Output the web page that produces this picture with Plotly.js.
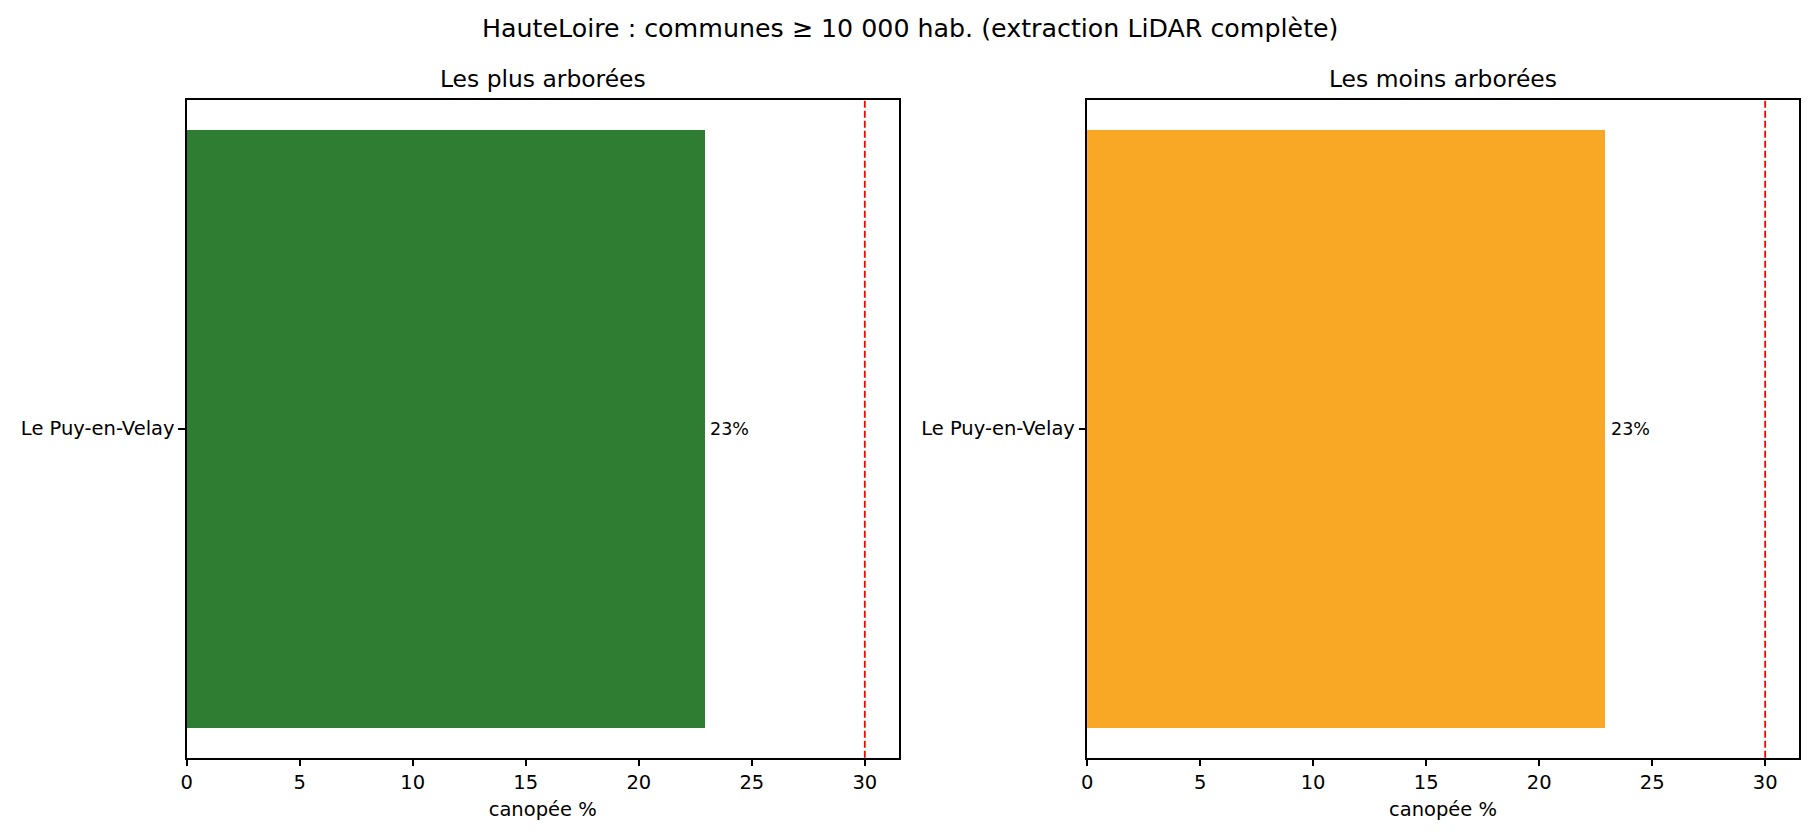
<!DOCTYPE html>
<html>
<head>
<meta charset="utf-8">
<script src="https://cdn.plot.ly/plotly-3.0.1.min.js"></script>
<style>
  html, body { margin: 0; padding: 0; background: #fff; }
  #chart { width: 1820px; height: 840px; }
</style>
</head>
<body>
<div id="chart"></div>
<script>
// values
var communesPlus = ['Le Puy-en-Velay'];
var canopeePlus = [22.9];
var communesMoins = ['Le Puy-en-Velay'];
var canopeeMoins = [22.9];
var objectif = 30;
var xTicks = [0, 5, 10, 15, 20, 25, 30];

var FONT = 'DejaVu Sans, sans-serif';

function barTrace(y, x, color, xa, ya) {
  return {
    type: 'bar',
    orientation: 'h',
    x: x,
    y: y,
    width: 0.8,
    marker: { color: color, line: { width: 0 } },
    xaxis: xa,
    yaxis: ya,
    hoverinfo: 'x+y',
    showlegend: false
  };
}

function labels(y, x, xref, yref) {
  return x.map(function (v, i) {
    return {
      xref: xref, yref: yref,
      x: v, y: y[i],
      text: Math.round(v) + '%',
      showarrow: false,
      xanchor: 'left', yanchor: 'middle',
      xshift: 4,
      font: { family: FONT, size: 17.5, color: '#000' }
    };
  });
}

function targetLine(xref, yref) {
  return {
    type: 'line', xref: xref, yref: yref + ' domain',
    x0: objectif, x1: objectif, y0: 0, y1: 1,
    line: { color: 'red', width: 1.8, dash: '7px,3px' }
  };
}

var data = [
  barTrace(communesPlus, canopeePlus, '#2e7d32', 'x', 'y'),
  barTrace(communesMoins, canopeeMoins, '#f9a825', 'x2', 'y2')
];

var xAxisBase = {
  range: [0, 31.5],
  tickvals: xTicks,
  ticks: 'outside', ticklen: 6.5, tickwidth: 1.5, tickcolor: '#000',
  showline: true, mirror: true, linecolor: '#000', linewidth: 1.5,
  showgrid: false, zeroline: false,
  tickfont: { family: FONT, size: 19.5, color: '#000' },
  title: { text: 'canopée %', font: { family: FONT, size: 19.5, color: '#000' }, standoff: 9 }
};

var yAxisBase = {
  type: 'category',
  range: [-0.44, 0.44],
  domain: [0.098, 0.8815],
  ticks: 'outside', ticklen: 6.5, tickwidth: 1.5, tickcolor: '#000',
  showline: true, mirror: true, linecolor: '#000', linewidth: 1.5,
  showgrid: false, zeroline: false,
  tickfont: { family: FONT, size: 19.5, color: '#000' }
};

var layout = {
  width: 1820, height: 840,
  margin: { l: 0, r: 0, t: 0, b: 0 },
  paper_bgcolor: '#fff', plot_bgcolor: '#fff',
  font: { family: FONT, color: '#000' },
  bargap: 0,
  xaxis: Object.assign({}, xAxisBase, { domain: [0.1026, 0.4938], anchor: 'y' }),
  yaxis: Object.assign({}, yAxisBase, { anchor: 'x' }),
  xaxis2: Object.assign({}, xAxisBase, { domain: [0.5973, 0.9885], anchor: 'y2' }),
  yaxis2: Object.assign({}, yAxisBase, { anchor: 'x2' }),
  shapes: [targetLine('x', 'y'), targetLine('x2', 'y2')],
  annotations: [
    {
      xref: 'paper', yref: 'paper', x: 0.5, y: 0.98, xanchor: 'center', yanchor: 'top',
      yshift: 5,
      text: 'HauteLoire : communes ≥ 10 000 hab. (extraction LiDAR complète)',
      showarrow: false, font: { family: FONT, size: 25.3, color: '#000' }
    },
    {
      xref: 'paper', yref: 'paper', x: (0.1026 + 0.4938) / 2, y: 0.8815, xanchor: 'center', yanchor: 'bottom',
      yshift: 5, text: 'Les plus arborées',
      showarrow: false, font: { family: FONT, size: 23.4, color: '#000' }
    },
    {
      xref: 'paper', yref: 'paper', x: (0.5973 + 0.9885) / 2, y: 0.8815, xanchor: 'center', yanchor: 'bottom',
      yshift: 5, text: 'Les moins arborées',
      showarrow: false, font: { family: FONT, size: 23.4, color: '#000' }
    }
  ].concat(labels(communesPlus, canopeePlus, 'x', 'y'))
   .concat(labels(communesMoins, canopeeMoins, 'x2', 'y2'))
};

try {
  Plotly.newPlot('chart', data, layout, { displayModeBar: false, responsive: false });
} catch (e) {
  console.log(e);
}
</script>
</body>
</html>
